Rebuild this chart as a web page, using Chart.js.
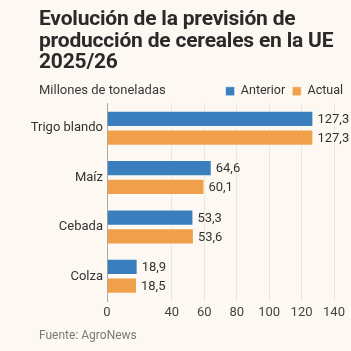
<!DOCTYPE html>
<html>
<head>
<meta charset="utf-8">
<script src="https://cdn.jsdelivr.net/npm/chart.js@4.4.1/dist/chart.umd.min.js"></script>
<style>
  html, body { margin:0; padding:0; background:#fdf9f2; }
  #wrap { position:relative; width:351px; height:351px; overflow:hidden; background:#fdf9f2; font-family: Roboto, "Noto Sans", sans-serif; }
  #title { position:absolute; left:39px; top:8px; width:300px; font-weight:700; font-size:21px; line-height:21.5px; color:#2a2a2a; letter-spacing:-0.2px; }
  #sub { position:absolute; left:39px; top:82px; font-size:13px; color:#3a3a3a; }
  #src { position:absolute; left:39px; top:328px; font-size:12px; color:#7a7a7a; }
  canvas { position:absolute; left:0; top:0; }
</style>
</head>
<body>
<div id="wrap">
  <canvas id="c" width="351" height="351"></canvas>
  <div id="title">Evolución de la previsión de producción de cereales en la UE 2025/26</div>
  <div id="sub">Millones de toneladas</div>
  <div id="src">Fuente: AgroNews</div>
</div>
<script>
const categories = ["Trigo blando", "Maíz", "Cebada", "Colza"];
const anterior = [127.3, 64.6, 53.3, 18.9];
const actual = [127.3, 60.1, 53.6, 18.5];
const seriesNames = ["Anterior", "Actual"];
const tickValues = [0, 40, 60, 80, 100, 120, 140];

const fmt = v => v.toFixed(1).replace('.', ',');

const labelPlugin = {
  id: 'barLabels',
  afterLayout(chart) {
    const lg = chart.legend;
    if (lg) { lg.left += 16; lg.right += 16; lg.top += 4; lg.bottom += 4; }
  },
  afterDatasetsDraw(chart) {
    const ctx = chart.ctx;
    ctx.save();
    ctx.font = '13px Roboto, "Noto Sans", sans-serif';
    ctx.fillStyle = '#333333';
    ctx.textBaseline = 'middle';
    ctx.textAlign = 'left';
    chart.data.datasets.forEach((ds, di) => {
      chart.getDatasetMeta(di).data.forEach((bar, i) => {
        ctx.fillText(fmt(ds.data[i]), bar.x + 4, bar.y + 1);
      });
    });
    ctx.restore();
  }
};

new Chart(document.getElementById('c'), {
  type: 'bar',
  data: {
    labels: categories,
    datasets: [
      { label: seriesNames[0], data: anterior, backgroundColor: '#3a7ebd', borderColor: 'rgba(255,255,255,0.55)', borderWidth: 1, categoryPercentage: 0.76, barPercentage: 0.87 },
      { label: seriesNames[1], data: actual, backgroundColor: '#f0a04b', borderColor: 'rgba(255,255,255,0.55)', borderWidth: 1, categoryPercentage: 0.76, barPercentage: 0.87 }
    ]
  },
  options: {
    indexAxis: 'y',
    responsive: false,
    animation: false,
    layout: { padding: { top: 74, left: 10, right: 17, bottom: 30 } },
    plugins: {
      legend: {
        position: 'top', align: 'end',
        labels: { boxWidth: 9, boxHeight: 9, padding: 7, color: '#333', font: { family: 'Roboto', size: 12.5 } }
      },
      tooltip: { enabled: false },
      title: { display: false }
    },
    scales: {
      x: {
        min: 0, max: 140,
        afterBuildTicks: s => { s.ticks = tickValues.map(v => ({ value: v })); },
        afterFit: s => { s.height = 20; },
        grid: { color: ctx => ctx.tick && ctx.tick.value === 0 ? 'rgba(0,0,0,0)' : '#ece7de', drawTicks: false },
        border: { display: false },
        ticks: { color: '#444', font: { family: 'Roboto', size: 13 }, padding: 4, callback: v => String(v) }
      },
      y: {
        afterFit: s => { s.width = 97; },
        grid: { display: false, drawTicks: false, tickLength: 0 },
        border: { display: true, color: '#a9a9a9' },
        ticks: { color: '#333', font: { family: 'Roboto', size: 13 }, padding: 4 }
      }
    }
  },
  plugins: [labelPlugin]
});
</script>
</body>
</html>
